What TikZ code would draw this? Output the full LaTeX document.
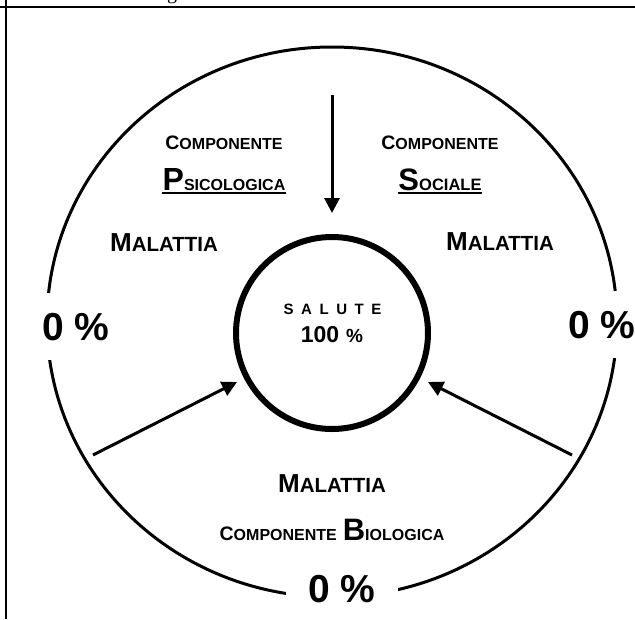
\documentclass[tikz,border=0pt]{standalone}
\usepackage{fontspec}
\setmainfont{Liberation Sans}
\newfontfamily\capserif{Liberation Serif}
\usetikzlibrary{arrows.meta}
\newcommand\fsz[1]{\fontsize{#1pt}{#1pt}\selectfont}
\newcommand\capsmall[4]{{\fsz{#1}#2}{\fsz{#3}#4}}
\begin{document}
\begin{tikzpicture}[x=1pt,y=-1pt,
  lbl/.style={anchor=base,inner sep=0pt,font=\bfseries},
  gapbox/.style={anchor=base,fill=white,inner xsep=22pt,inner ysep=20pt,font=\bfseries\fsz{39}},
  frameline/.style={line width=2pt},
  arr/.style={line width=3pt,-{Triangle[length=15pt,width=15pt]}}]
\useasboundingbox (0,0) rectangle (635,619);
% frame
\draw[frameline] (0,7) -- (635,7);
\draw[frameline] (6,0) -- (6,619);
\node[anchor=base,inner sep=0pt,font=\capserif\fsz{20}] (cap) at (172,-1) {g};
% big ellipse
\draw[line width=3pt] (332,322) ellipse [x radius=285pt, y radius=275pt];
\node[gapbox] (zeroL) at (76,340) {0 \%};
\node[gapbox,anchor=base west,inner xsep=20pt] (zeroR) at (548,338) {0 \%};
\node[gapbox] (zeroB) at (342,602) {0 \%};
% central circle
\node[circle,draw,line width=6pt,minimum size=192pt,inner sep=0pt] (salute) at (332,333) {};
\node[lbl] (saluteT) at (332.5,314) {\fsz{15}S\hspace{7.6pt}A\hspace{7.6pt}L\hspace{7.6pt}U\hspace{7.6pt}T\hspace{7.6pt}E};
\node[lbl] (cento) at (332,342) {\fsz{23}100\hspace{7pt}{\fsz{19}\%}};
% psicologica
\node[lbl] (compP) at (224,149) {\capsmall{19.5}{C}{16}{OMPONENTE}};
\node[lbl] (psico) at (224,190) {\capsmall{32}{P}{16}{SICOLOGICA}};
\draw[frameline] ([yshift=-3pt]psico.base west) -- ([yshift=-3pt]psico.base east);
\node[lbl] (malL) at (164,251) {\capsmall{26}{M}{20.5}{ALATTIA}};
% sociale
\node[lbl] (compS) at (440,149) {\capsmall{19.5}{C}{16}{OMPONENTE}};
\node[lbl] (soc) at (440,190) {\capsmall{31}{S}{16.5}{OCIALE}};
\draw[frameline] ([yshift=-3pt]soc.base west) -- ([yshift=-3pt]soc.base east);
\node[lbl] (malR) at (500,250) {\capsmall{26}{M}{20.5}{ALATTIA}};
% biologica
\node[lbl] (malB) at (332,492) {\capsmall{26}{M}{20.5}{ALATTIA}};
\node[lbl] (compB) at (332,540) {\capsmall{19.5}{C}{16}{OMPONENTE}\hspace{6pt}\capsmall{31}{B}{16}{IOLOGICA}};
% arrows
\coordinate (topS) at (332,95);
\coordinate (topE) at (332,213);
\coordinate (leftS) at (93,455);
\coordinate (leftE) at (237,382);
\coordinate (rightS) at (572,455);
\coordinate (rightE) at (428,382);
\draw[arr] (topS) -- (topE);
\draw[arr] (leftS) -- (leftE);
\draw[arr] (rightS) -- (rightE);
\end{tikzpicture}
\end{document}
